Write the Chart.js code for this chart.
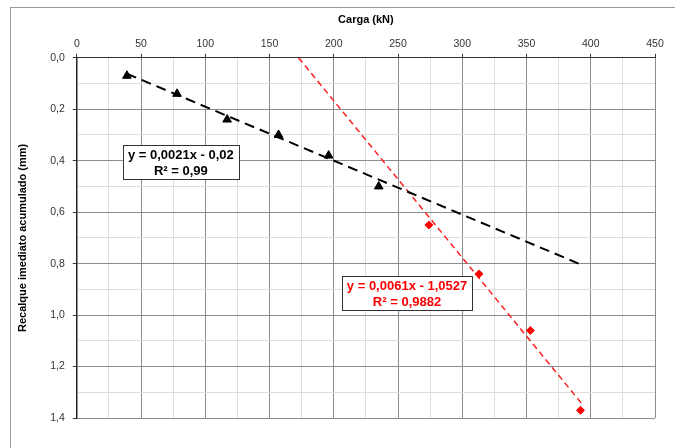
<!DOCTYPE html>
<html>
<head>
<meta charset="utf-8">
<script src="https://cdn.jsdelivr.net/npm/chart.js@4.4.1/dist/chart.umd.min.js"></script>
<style>
  html, body { margin: 0; padding: 0; background: #fff; }
  #wrap { position: absolute; left: 0; top: 0; width: 675px; height: 448px; }
  #frame { position: absolute; left: 10px; top: 7px; width: 700px; height: 460px; border: 1px solid #999; }
</style>
</head>
<body>
<div id="wrap">
  <div id="frame"></div>
  <canvas id="chart" width="675" height="448"></canvas>
</div>
<script>
// estágio 1 (triângulos) e estágio 2 (losangos)
const cargaA = [39, 78, 117, 157, 196, 235];
const recalqueA = [0.07, 0.14, 0.24, 0.30, 0.38, 0.50];
const cargaB = [274, 313, 353, 392];
const recalqueB = [0.65, 0.84, 1.06, 1.37];

// extremos das linhas de tendência
const trendA = [[39, 0.062], [394, 0.807]];
const trendB = [[172.6, 0], [393, 1.344]];

const eqA = ['y = 0,0021x - 0,02', 'R² = 0,99'];
const eqB = ['y = 0,0061x - 1,0527', 'R² = 0,9882'];

const pts = (xs, ys) => xs.map((x, i) => ({ x: x, y: ys[i] }));
const seg = (t) => t.map(p => ({ x: p[0], y: p[1] }));

const FONT = "'Liberation Sans', Arial, sans-serif";

// caixas das equações
const labelBoxes = {
    id: 'labelBoxes',
    afterDatasetsDraw(chart) {
        const c = chart.ctx;
        const sx = chart.scales.x, sy = chart.scales.y;
        const boxes = [
            { lines: eqA, x: 81, y: 0.405, color: '#000' },
            { lines: eqB, x: 257, y: 0.915, color: '#ff0000' }
        ];
        c.save();
        c.font = 'bold 13px ' + FONT;
        boxes.forEach(b => {
            const cx = sx.getPixelForValue(b.x);
            const cy = sy.getPixelForValue(b.y);
            const w = Math.max(...b.lines.map(l => c.measureText(l).width)) + 10;
            const h = 34;
            c.fillStyle = '#fff';
            c.fillRect(cx - w / 2, cy - h / 2, w, h);
            c.strokeStyle = '#333';
            c.lineWidth = 1;
            c.strokeRect(Math.round(cx - w / 2) + 0.5, Math.round(cy - h / 2) + 0.5, Math.round(w), h);
            c.fillStyle = b.color;
            c.textAlign = 'center';
            c.textBaseline = 'middle';
            c.fillText(b.lines[0], cx, cy - 7);
            c.fillText(b.lines[1], cx, cy + 9);
        });
        c.restore();
    }
};

new Chart(document.getElementById('chart'), {
    type: 'scatter',
    data: {
        datasets: [
            {
                data: pts(cargaA, recalqueA),
                pointStyle: 'triangle',
                pointRadius: 5,
                backgroundColor: '#000',
                borderColor: '#000'
            },
            {
                data: pts(cargaB, recalqueB),
                pointStyle: 'rectRot',
                pointRadius: 4,
                backgroundColor: '#ff0000',
                borderColor: '#ff0000'
            },
            {
                type: 'line',
                data: seg(trendA),
                borderColor: '#000',
                borderWidth: 2,
                borderDash: [10, 6],
                pointRadius: 0,
                fill: false
            },
            {
                type: 'line',
                data: seg(trendB),
                borderColor: '#ff2020',
                borderWidth: 1.5,
                borderDash: [6, 4],
                pointRadius: 0,
                fill: false
            }
        ]
    },
    options: {
        responsive: false,
        animation: false,
        layout: { padding: { left: 16, right: 20, top: 13, bottom: 30 } },
        plugins: { legend: { display: false }, tooltip: { enabled: false } },
        scales: {
            x: {
                type: 'linear',
                position: 'top',
                min: 0, max: 450,
                title: { display: true, text: 'Carga (kN)', font: { family: FONT, size: 11, weight: 'bold' }, color: '#000', padding: { top: 0, bottom: 9 } },
                ticks: {
                    stepSize: 25,
                    autoSkip: false,
                    maxRotation: 0,
                    font: { family: FONT, size: 10.5 },
                    color: '#333',
                    callback: (v) => (v % 50 === 0 ? String(v) : '')
                },
                grid: {
                    color: (ctx) => (ctx.tick && ctx.tick.value % 50 === 0 ? '#8c8c8c' : '#dedede'),
                    tickColor: (ctx) => (ctx.tick && ctx.tick.value % 50 === 0 ? '#333' : 'rgba(0,0,0,0)'),
                    tickLength: 4
                },
                border: { color: '#333', width: 1 }
            },
            y: {
                type: 'linear',
                reverse: true,
                min: 0, max: 1.4,
                title: { display: true, text: 'Recalque imediato acumulado (mm)', font: { family: FONT, size: 11, weight: 'bold' }, color: '#000', padding: { top: 0, bottom: 13 } },
                ticks: {
                    stepSize: 0.1,
                    autoSkip: false,
                    padding: 8,
                    font: { family: FONT, size: 10.5 },
                    color: '#333',
                    callback: (v) => {
                        const k = Math.round(v * 10);
                        return k % 2 === 0 ? (k / 10).toFixed(1).replace('.', ',') : '';
                    }
                },
                grid: {
                    color: (ctx) => (ctx.tick && Math.round(ctx.tick.value * 10) % 2 === 0 ? '#8c8c8c' : '#dedede'),
                    tickColor: (ctx) => (ctx.tick && Math.round(ctx.tick.value * 10) % 2 === 0 ? '#333' : 'rgba(0,0,0,0)'),
                    tickLength: 4
                },
                border: { color: '#222', width: 1.5 }
            }
        }
    },
    plugins: [labelBoxes]
});
</script>
</body>
</html>
